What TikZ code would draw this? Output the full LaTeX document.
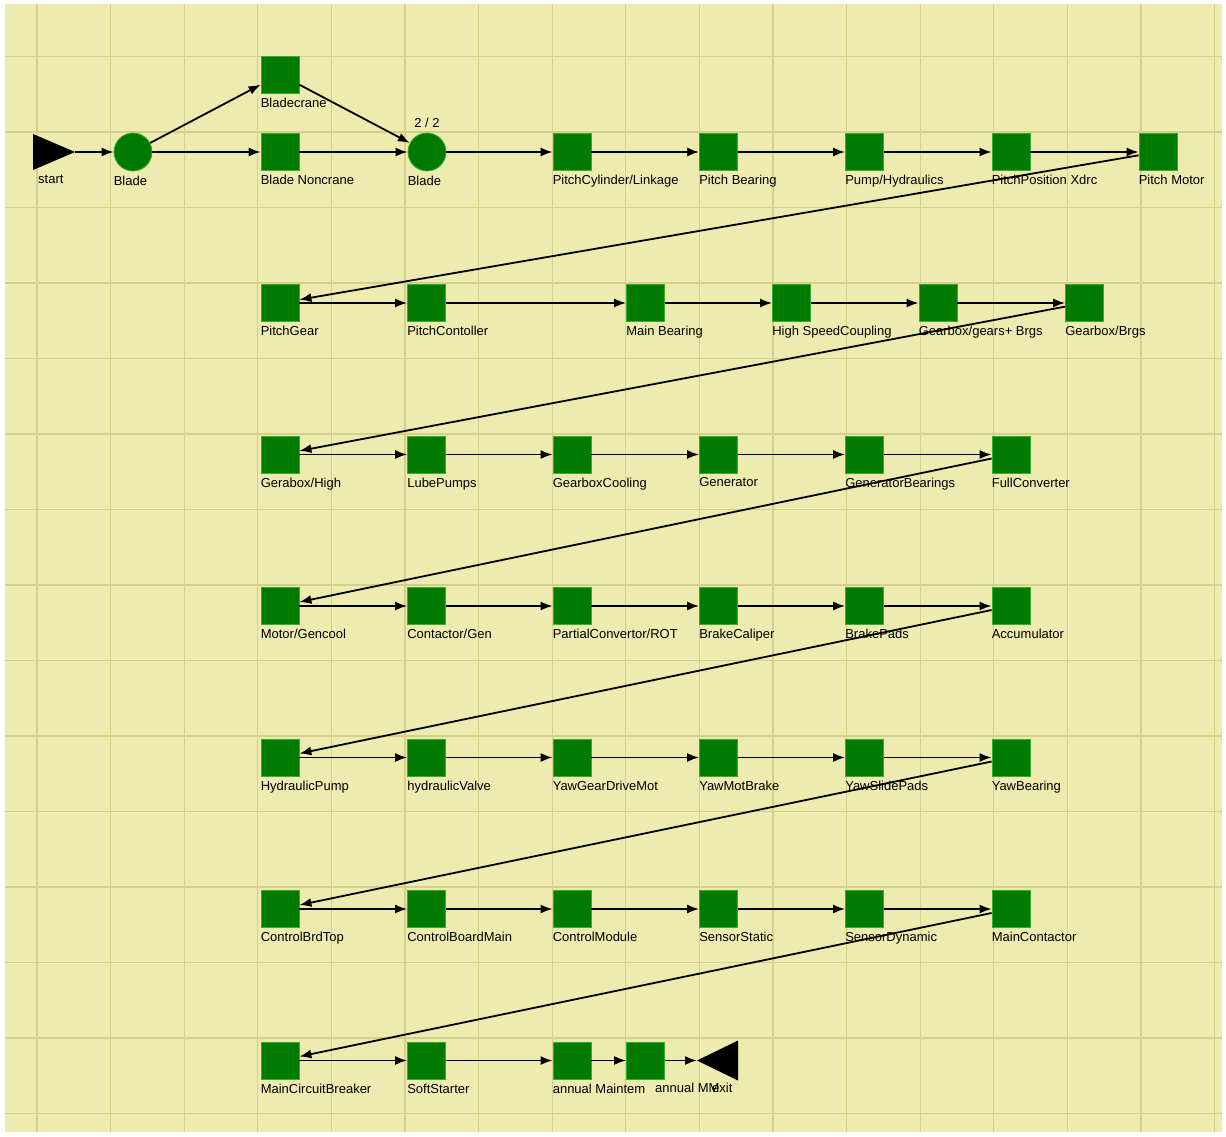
\documentclass[tikz,border=0pt]{standalone}
\usepackage{fontspec}
\setmainfont{Liberation Sans}
\usetikzlibrary{arrows.meta}
\definecolor{bg}{RGB}{237,235,176}
\definecolor{gridc}{RGB}{212,208,135}
\definecolor{boxg}{RGB}{0,122,0}
\definecolor{boxe}{RGB}{50,175,50}
\newcommand\mybox[4]{\node[box] (#1) at (#2,#3) {}; \node[lab] (#1-l) at ([yshift=-4pt]#1.south west) {#4};}
\newcommand\mycirc[4]{\node[circ] (#1) at (#2,#3) {}; \node[lab] (#1-l) at ([yshift=-4pt]#1.west |- #1.south) {#4};}
\begin{document}
\begin{tikzpicture}[x=1pt,y=-1pt,
 box/.style={rectangle,fill=boxg,draw=boxe,line width=0.8pt,minimum width=38pt,minimum height=37pt,inner sep=0pt},
 circ/.style={circle,fill=boxg,draw=boxe,line width=0.8pt,minimum size=38pt,inner sep=0pt},
 lab/.style={font=\fontsize{13}{15}\selectfont, inner sep=0pt, anchor=north west},
 conn/.style={line width=1.8pt,-{Latex[length=12pt,width=9pt]}},
 tri/.style={fill=black}
]
\useasboundingbox (0,0) rectangle (1226,1137);
\fill[white] (0,0) rectangle (1226,1137);
\fill[bg] (5,4) rectangle (1222,1132);
\foreach \i in {0,...,16} \draw[gridc,line width=1.3pt] ({37+73.6*\i},4) -- ({37+73.6*\i},1132);
\foreach \i in {0,...,14} \draw[gridc,line width=1.3pt] (5,{56.5+75.5*\i}) -- (1222,{56.5+75.5*\i});

% start
\fill[tri] (33,134) -- (75,152) -- (33,170) -- cycle;
\coordinate (start) at (75,152);
\node[lab] (start-l) at (38,175) {start};

% row 1
\mycirc{blade1}{133}{152}{Blade}
\mybox{bladecrane}{280}{74.5}{Bladecrane}
\mybox{noncrane}{280}{152}{Blade Noncrane}
\mycirc{blade2}{427}{152}{Blade}
\node[lab,anchor=south] (frac) at ([yshift=5pt]blade2.north) {2 / 2};
\mybox{pcyl}{572}{152}{PitchCylinder/Linkage}
\mybox{pbear}{718.5}{152}{Pitch Bearing}
\mybox{pump}{864.5}{152}{Pump/Hydraulics}
\mybox{ppos}{1011}{152}{PitchPosition Xdrc}
\mybox{pmot}{1158}{152}{Pitch Motor}

% row 2
\mybox{pgear}{280}{303}{PitchGear}
\mybox{pcont}{426.5}{303}{PitchContoller}
\mybox{mbear}{645.5}{303}{Main Bearing}
\mybox{hsc}{791.5}{303}{High SpeedCoupling}
\mybox{ggb}{938}{303}{Gearbox/gears+ Brgs}
\mybox{gbb}{1084.5}{303}{Gearbox/Brgs}

% row 3
\mybox{gh}{280}{454.5}{Gerabox/High}
\mybox{lube}{426.5}{454.5}{LubePumps}
\mybox{gcool}{572}{454.5}{GearboxCooling}
\mybox{gen}{718.5}{454.5}{Generator}
\mybox{genb}{864.5}{454.5}{GeneratorBearings}
\mybox{fconv}{1011}{454.5}{FullConverter}

% row 4
\mybox{mgc}{280}{606}{Motor/Gencool}
\mybox{cgen}{426.5}{606}{Contactor/Gen}
\mybox{pconv}{572}{606}{PartialConvertor/ROT}
\mybox{bcal}{718.5}{606}{BrakeCaliper}
\mybox{bpad}{864.5}{606}{BrakePads}
\mybox{accu}{1011}{606}{Accumulator}

% row 5
\mybox{hpump}{280}{757.5}{HydraulicPump}
\mybox{hvalve}{426.5}{757.5}{hydraulicValve}
\mybox{ygdm}{572}{757.5}{YawGearDriveMot}
\mybox{ymb}{718.5}{757.5}{YawMotBrake}
\mybox{ysp}{864.5}{757.5}{YawSlidePads}
\mybox{ybear}{1011}{757.5}{YawBearing}

% row 6
\mybox{cbt}{280}{909}{ControlBrdTop}
\mybox{cbm}{426.5}{909}{ControlBoardMain}
\mybox{cmod}{572}{909}{ControlModule}
\mybox{sstat}{718.5}{909}{SensorStatic}
\mybox{sdyn}{864.5}{909}{SensorDynamic}
\mybox{mcont}{1011}{909}{MainContactor}

% row 7
\mybox{mcb}{280}{1060.5}{MainCircuitBreaker}
\mybox{soft}{426.5}{1060.5}{SoftStarter}
\mybox{am1}{572}{1060.5}{annual Maintem}
\node[box] (am2) at (645.5,1060.5) {};
\node[lab] (am2-l) at (655,1083) {annual MM};
\fill[tri] (697,1060.5) -- (738,1040.5) -- (738,1080.5) -- cycle;
\coordinate (exit) at (697,1060.5);
\node[lab] (exit-l) at (712,1083) {exit};

% connectors
\draw[conn] (start) -- (blade1);
\draw[conn] (blade1) -- (bladecrane);
\draw[conn] (blade1) -- (noncrane);
\draw[conn] (bladecrane) -- (blade2);
\draw[conn] (noncrane) -- (blade2);
\draw[conn] (blade2) -- (pcyl);
\draw[conn] (pcyl) -- (pbear);
\draw[conn] (pbear) -- (pump);
\draw[conn] (pump) -- (ppos);
\draw[conn] (ppos) -- (pmot);
\draw[conn] (pmot) -- (pgear);
\draw[conn] (pgear) -- (pcont);
\draw[conn] (pcont) -- (mbear);
\draw[conn] (mbear) -- (hsc);
\draw[conn] (hsc) -- (ggb);
\draw[conn] (ggb) -- (gbb);
\draw[conn] (gbb) -- (gh);
\draw[conn] (gh) -- (lube);
\draw[conn] (lube) -- (gcool);
\draw[conn] (gcool) -- (gen);
\draw[conn] (gen) -- (genb);
\draw[conn] (genb) -- (fconv);
\draw[conn] (fconv) -- (mgc);
\draw[conn] (mgc) -- (cgen);
\draw[conn] (cgen) -- (pconv);
\draw[conn] (pconv) -- (bcal);
\draw[conn] (bcal) -- (bpad);
\draw[conn] (bpad) -- (accu);
\draw[conn] (accu) -- (hpump);
\draw[conn] (hpump) -- (hvalve);
\draw[conn] (hvalve) -- (ygdm);
\draw[conn] (ygdm) -- (ymb);
\draw[conn] (ymb) -- (ysp);
\draw[conn] (ysp) -- (ybear);
\draw[conn] (ybear) -- (cbt);
\draw[conn] (cbt) -- (cbm);
\draw[conn] (cbm) -- (cmod);
\draw[conn] (cmod) -- (sstat);
\draw[conn] (sstat) -- (sdyn);
\draw[conn] (sdyn) -- (mcont);
\draw[conn] (mcont) -- (mcb);
\draw[conn] (mcb) -- (soft);
\draw[conn] (soft) -- (am1);
\draw[conn] (am1) -- (am2);
\draw[conn] (am2) -- (exit);
\end{tikzpicture}
\end{document}
